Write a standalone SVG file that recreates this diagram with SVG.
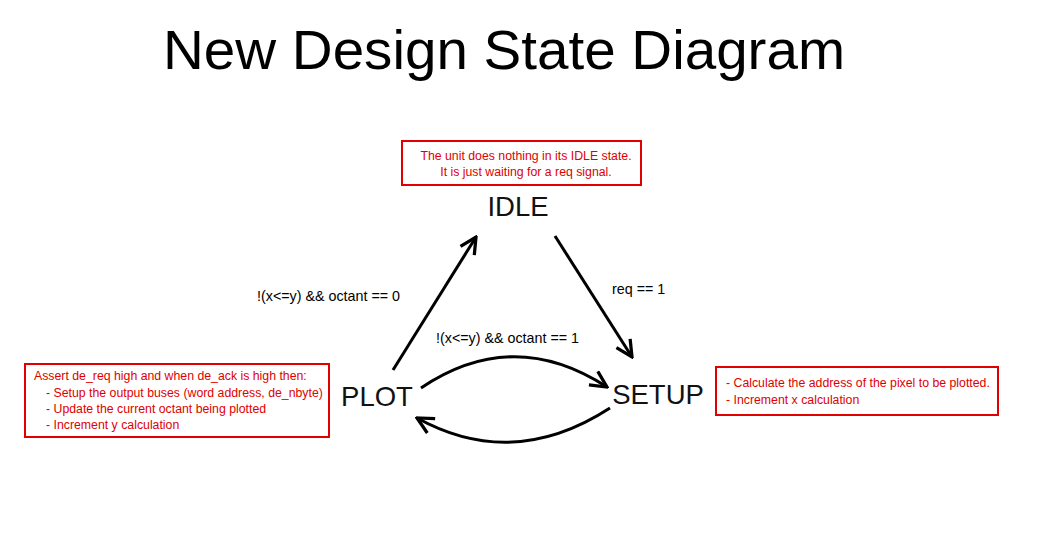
<svg xmlns="http://www.w3.org/2000/svg" width="1058" height="554" viewBox="0 0 1058 554">
<style>
.title{font-family:"Liberation Sans",Arial,sans-serif;font-size:55px;fill:#000}
.state{font-family:"Liberation Sans",Arial,sans-serif;font-size:27.5px;fill:#111}
.lbl{font-family:"Liberation Sans",Arial,sans-serif;font-size:14.3px;fill:#000}
.note{font-family:"Liberation Sans",Arial,sans-serif;font-size:12.3px;fill:#e00000}
.box{fill:#fff;stroke:#e00000;stroke-width:2}
.edge{fill:none;stroke:#000;stroke-width:3}
</style>
<defs>
<marker id="arr" viewBox="0 0 12 12" refX="11" refY="6" markerWidth="6.5" markerHeight="6.5" orient="auto" markerUnits="strokeWidth">
<path d="M1,1 L11,6 L1,11" fill="none" stroke="#000" stroke-width="2"/>
</marker>
</defs>
<rect width="1058" height="554" fill="#fff"/>
<text class="title" x="504" y="69" text-anchor="middle" textLength="682" lengthAdjust="spacingAndGlyphs">New Design State Diagram</text>
<g id="connectors">
<line class="edge" x1="393" y1="370" x2="476" y2="237" marker-end="url(#arr)"/>
<line class="edge" x1="555" y1="236" x2="632" y2="357" marker-end="url(#arr)"/>
<path class="edge" d="M421,388 Q513,326 607,387" marker-end="url(#arr)"/>
<path class="edge" d="M610,408 Q513,471 417,418" marker-end="url(#arr)"/>
<text class="lbl" x="257" y="301">!(x&lt;=y) &amp;&amp; octant == 0</text>
<text class="lbl" x="612" y="294">req == 1</text>
<text class="lbl" x="436" y="343">!(x&lt;=y) &amp;&amp; octant == 1</text>
</g>
<g id="idle">
<rect class="box" x="402" y="141" width="239" height="44"/>
<text class="note" x="526" y="160" text-anchor="middle">The unit does nothing in its IDLE state.</text>
<text class="note" x="526" y="176" text-anchor="middle">It is just waiting for a req signal.</text>
<text class="state" x="518" y="216" text-anchor="middle">IDLE</text>
</g>
<g id="plot">
<rect class="box" x="25" y="364" width="304" height="73"/>
<text class="note" x="34" y="380">Assert de_req high and when de_ack is high then:</text>
<text class="note" x="46" y="397">- Setup the output buses (word address, de_nbyte)</text>
<text class="note" x="46" y="413">- Update the current octant being plotted</text>
<text class="note" x="46" y="429">- Increment y calculation</text>
<text class="state" x="377" y="406" text-anchor="middle">PLOT</text>
</g>
<g id="setup">
<rect class="box" x="716" y="367" width="282" height="48"/>
<text class="note" x="726" y="387">- Calculate the address of the pixel to be plotted.</text>
<text class="note" x="726" y="404">- Increment x calculation</text>
<text class="state" x="658" y="404" text-anchor="middle">SETUP</text>
</g>
</svg>
